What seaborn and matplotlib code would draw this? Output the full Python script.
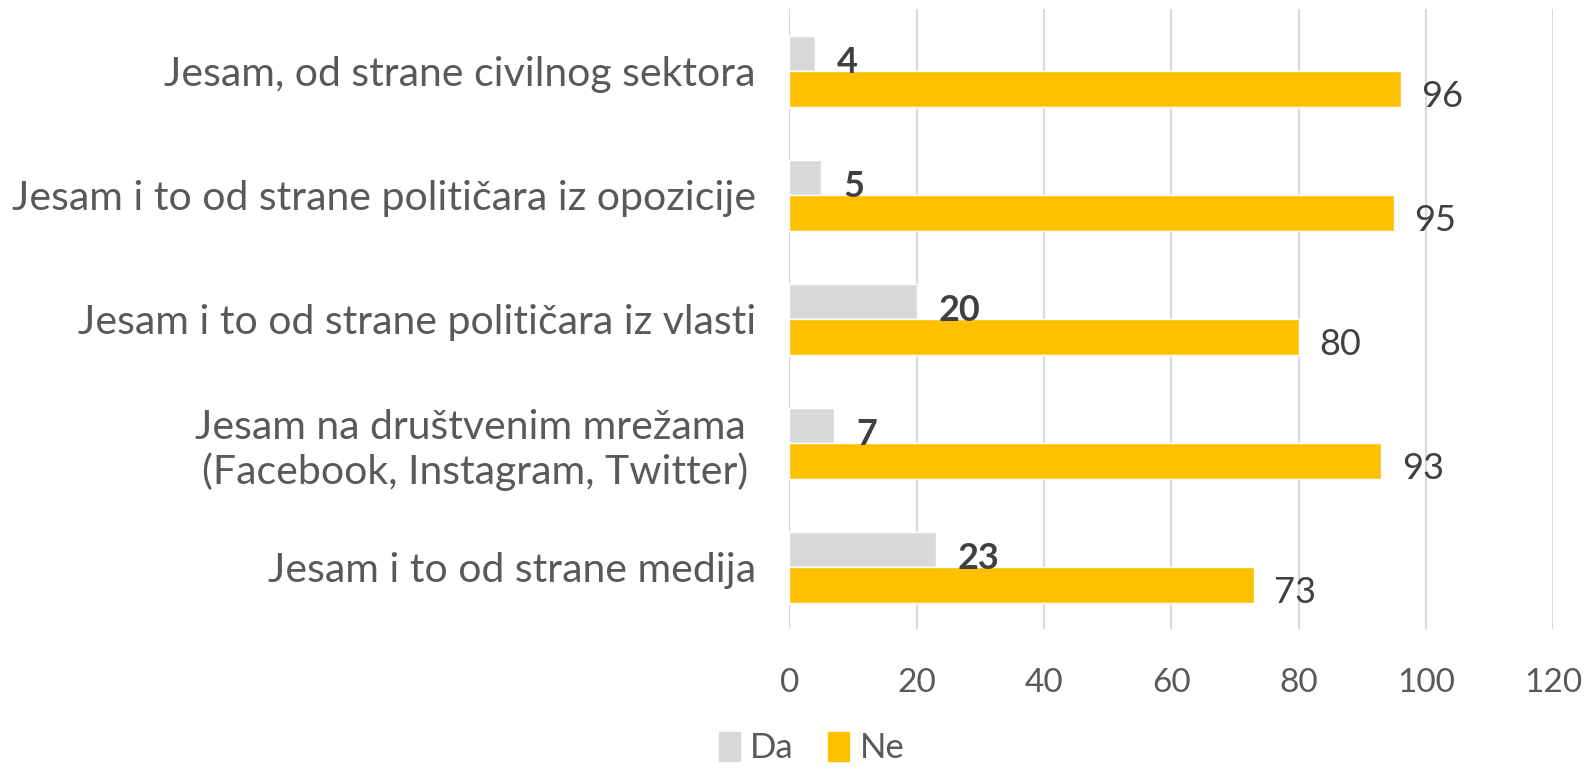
import pandas as pd
import seaborn as sns
import matplotlib.pyplot as plt

categories = [
    'Jesam, od strane civilnog sektora',
    'Jesam i to od strane političara iz opozicije',
    'Jesam i to od strane političara iz vlasti',
    'Jesam na društvenim mrežama \n(Facebook, Instagram, Twitter)',
    'Jesam i to od strane medija',
]
da_values = [4, 5, 20, 7, 23]
ne_values = [96, 95, 80, 93, 73]
series = ['Da', 'Ne']
colors = ['#D9D9D9', '#FFC000']

df = pd.DataFrame({
    'Kategorija': categories * 2,
    'Odgovor': ['Da'] * len(categories) + ['Ne'] * len(categories),
    'Vrijednost': da_values + ne_values,
})

sns.set_style('white')
plt.rcParams['font.family'] = ['Lato', 'DejaVu Sans']

fig = plt.figure(figsize=(15.85, 7.75), dpi=100)
ax = fig.add_axes([0.498, 0.188, 0.482, 0.800])

sns.barplot(data=df, y='Kategorija', x='Vrijednost', hue='Odgovor',
            hue_order=series, palette=colors, orient='h', width=0.57,
            order=categories, ax=ax, saturation=1, legend=False)

ax.set_xlim(0, 120)
ax.set_ylim(len(categories) - 0.5, -0.5)
ax.set_xticks(range(0, 121, 20))
ax.xaxis.grid(True, color='#D9D9D9', linewidth=1.5)
ax.yaxis.grid(False)
ax.set_axisbelow(True)
for s in ax.spines.values():
    s.set_visible(False)
ax.set_xlabel('')
ax.set_ylabel('')
ax.tick_params(axis='x', length=0, pad=28, labelsize=24, labelcolor='#595959')
ax.tick_params(axis='y', length=0, pad=24, labelsize=29.5, labelcolor='#595959')
for lbl in ax.get_yticklabels():
    lbl.set_multialignment('center')

# value labels
for i, (d, n) in enumerate(zip(da_values, ne_values)):
    ax.text(d + 3.5, i - 0.07, str(d), ha='left', va='center', fontsize=26,
            fontweight='bold', color='#404040')
    ax.text(n + 3.2, i + 0.2, str(n), ha='left', va='center', fontsize=26,
            color='#404040')

handles = [plt.Rectangle((0, 0), 1, 1, color=c) for c in colors]
fig.legend(handles, series, loc='center', bbox_to_anchor=(0.512, 0.035), ncol=2,
           frameon=False, fontsize=25, handlelength=0.6, handleheight=0.9,
           handletextpad=0.3, columnspacing=1.0, labelcolor='#595959')

fig.savefig('out.png', dpi=100)
